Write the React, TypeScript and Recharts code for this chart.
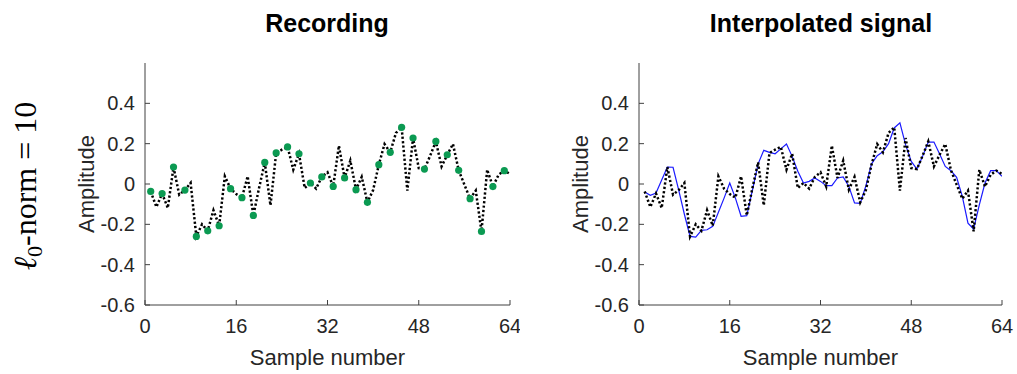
import { ComposedChart, Line, XAxis, YAxis } from "recharts";

// True signal, one value per sample (1..64)
const TRUE_SIGNAL = [
  -0.037, -0.114, -0.047, -0.119, 0.084, -0.053, -0.03, 0.005,
  -0.26, -0.2, -0.232, -0.13, -0.207, 0.038, -0.023, -0.05,
  -0.068, 0.038, -0.156, -0.02, 0.107, -0.106, 0.154, 0.17,
  0.184, 0.071, 0.15, -0.02, 0.005, -0.023, 0.035, 0.058,
  -0.012, 0.19, 0.03, 0.116, -0.028, 0.035, -0.091, -0.03,
  0.096, 0.198, 0.157, 0.253, 0.281, -0.033, 0.228, 0.079,
  0.074, 0.14, 0.211, 0.087, 0.145, 0.198, 0.068, -0.003,
  -0.073, -0.033, -0.235, 0.071, -0.013, 0.046, 0.066, 0.05,
];

// Samples that were actually recorded, and their values
const RECORDED_SAMPLES = [
  1, 3, 5, 7, 9, 11, 13, 15, 17, 19, 21, 23, 25, 27, 29, 31,
  33, 35, 37, 39, 41, 43, 45, 47, 49, 51, 53, 55, 57, 59, 61, 63,
];
const RECORDED_VALUES = [
  -0.037, -0.047, 0.084, -0.03, -0.26, -0.232, -0.207, -0.023,
  -0.068, -0.156, 0.107, 0.154, 0.184, 0.15, 0.005, 0.035,
  -0.012, 0.03, -0.028, -0.091, 0.096, 0.157, 0.281, 0.228,
  0.074, 0.211, 0.145, 0.068, -0.073, -0.235, -0.013, 0.066,
];

// Reconstruction from the recorded samples
const INTERPOLATED = [
  -0.04, -0.056, -0.045, 0.02, 0.084, 0.083, -0.03, -0.15,
  -0.26, -0.263, -0.23, -0.227, -0.21, -0.14, -0.07, 0.005,
  -0.07, -0.16, -0.157, -0.03, 0.1, 0.167, 0.157, 0.15,
  0.174, 0.198, 0.137, 0.063, 0.005, 0.013, 0.03, 0.013,
  -0.008, -0.008, 0.03, 0.035, -0.012, -0.094, -0.096, -0.01,
  0.1, 0.14, 0.16, 0.2, 0.278, 0.303, 0.195, 0.112,
  0.074, 0.137, 0.208, 0.208, 0.149, 0.087, 0.066, 0.033,
  -0.061, -0.194, -0.223, -0.103, 0.005, 0.066, 0.066, 0.038,
];

const X_TICKS = [0, 16, 32, 48, 64];
const Y_TICKS = [-0.6, -0.4, -0.2, 0, 0.2, 0.4];

const FONT = "'Liberation Sans', Arial, Helvetica, sans-serif";
const AXIS_COLOR = "#404040";
const TEXT_COLOR = "#262626";
const GREEN = "#0b9a52";
const BLUE = "#1a1aff";

const recordedBySample = new Map(
  RECORDED_SAMPLES.map((s, i) => [s, RECORDED_VALUES[i]])
);

const rows = TRUE_SIGNAL.map((v, i) => ({
  s: i + 1,
  truth: v,
  interp: INTERPOLATED[i],
  recorded: recordedBySample.get(i + 1) ?? null,
}));

const fmtY = (v: number) => (v === 0 ? "0" : v.toFixed(1));
const tickText = { fill: TEXT_COLOR, fontSize: 20, fontFamily: FONT };
const noLabel = () => "";

// box axes with inward ticks on all four sides
function axes() {
  return [
    <XAxis
      key="xb"
      dataKey="s"
      type="number"
      domain={[0, 64]}
      allowDataOverflow
      ticks={X_TICKS}
      interval={0}
      height={69}
      tickSize={-5}
      tickMargin={19}
      stroke={AXIS_COLOR}
      tick={tickText}
      label={{
        value: "Sample number",
        position: "insideBottom",
        offset: 9,
        fill: TEXT_COLOR,
        fontSize: 22,
        fontFamily: FONT,
      }}
    />,
    <XAxis
      key="xt"
      xAxisId="top"
      orientation="top"
      dataKey="s"
      type="number"
      domain={[0, 64]}
      allowDataOverflow
      ticks={X_TICKS}
      interval={0}
      height={0}
      tickSize={-5}
      stroke={AXIS_COLOR}
      tickFormatter={noLabel}
    />,
    <YAxis
      key="yl"
      type="number"
      domain={[-0.6, 0.6]}
      allowDataOverflow
      ticks={Y_TICKS}
      interval={0}
      width={70}
      tickSize={-5}
      tickMargin={15}
      stroke={AXIS_COLOR}
      tick={tickText}
      tickFormatter={fmtY}
      label={{
        value: "Amplitude",
        angle: -90,
        position: "insideLeft",
        offset: 11,
        fill: TEXT_COLOR,
        fontSize: 22,
        fontFamily: FONT,
        style: { textAnchor: "middle" },
      }}
    />,
    <YAxis
      key="yr"
      yAxisId="right"
      orientation="right"
      type="number"
      domain={[-0.6, 0.6]}
      allowDataOverflow
      ticks={Y_TICKS}
      interval={0}
      width={0}
      tickSize={-5}
      stroke={AXIS_COLOR}
      tickFormatter={noLabel}
    />,
  ];
}

const dottedTruth = (
  <Line
    dataKey="truth"
    stroke="#000"
    strokeWidth={2.5}
    strokeDasharray="2.2 2.2"
    dot={false}
    activeDot={false}
    isAnimationActive={false}
  />
);

export default function App() {
  return (
    <div
      style={{
        position: "absolute",
        left: 0,
        top: 0,
        width: 1017,
        height: 374,
        background: "#fff",
      }}
    >
      <div style={{ position: "absolute", left: 0, top: 0 }}>
        <ComposedChart
          width={520}
          height={374}
          data={rows}
          margin={{ top: 63, right: 10, bottom: 0, left: 75 }}
        >
          {axes()}
          <Line
            dataKey="recorded"
            stroke="none"
            dot={{ r: 3.6, fill: GREEN, stroke: GREEN, strokeWidth: 0 }}
            activeDot={false}
            isAnimationActive={false}
          />
          {dottedTruth}
        </ComposedChart>
      </div>
      <div style={{ position: "absolute", left: 520, top: 0 }}>
        <ComposedChart
          width={497}
          height={374}
          data={rows}
          margin={{ top: 63, right: 15, bottom: 0, left: 49 }}
        >
          {axes()}
          <Line
            dataKey="interp"
            stroke={BLUE}
            strokeWidth={1.2}
            dot={false}
            activeDot={false}
            isAnimationActive={false}
          />
          {dottedTruth}
        </ComposedChart>
      </div>
      <svg
        width={1017}
        height={374}
        style={{ position: "absolute", left: 0, top: 0, pointerEvents: "none" }}
      >
        <g fontFamily={FONT} fontWeight="bold" fontSize={25} fill="#000">
          <text x={327} y={32} textAnchor="middle">
            Recording
          </text>
          <text x={821} y={32} textAnchor="middle">
            Interpolated signal
          </text>
        </g>
        <text
          transform="translate(36,186) rotate(-90)"
          textAnchor="middle"
          fontFamily="'Liberation Serif', 'DejaVu Serif', serif"
          fontSize={32}
          fill="#000"
        >
          <tspan fontStyle="italic">ℓ</tspan>
          <tspan fontSize={22} dy={6}>0</tspan>
          <tspan dy={-6}>-norm</tspan>
          <tspan dx={8}>=</tspan>
          <tspan dx={8}>10</tspan>
        </text>
      </svg>
    </div>
  );
}
